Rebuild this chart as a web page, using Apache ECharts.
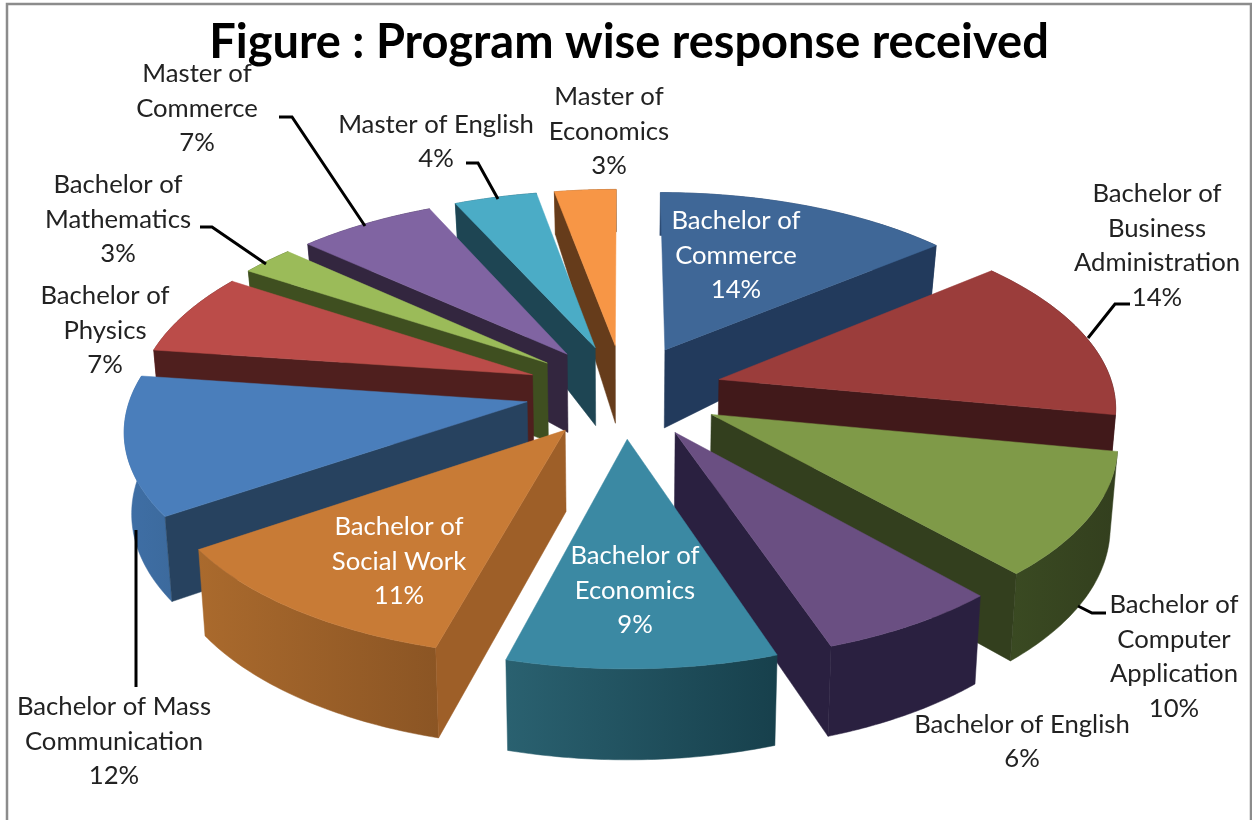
<!DOCTYPE html>
<html>
<head>
<meta charset="utf-8">
<title>Program wise response received</title>
<script src="https://cdn.jsdelivr.net/npm/echarts@6/dist/echarts.min.js"></script>
<style>
html,body{margin:0;padding:0;background:#fff;}
#main{width:1252px;height:820px;}
</style>
</head>
<body>
<div id="main"></div>
<script>
// chart data
var chartTitle = 'Figure : Program wise response received';
var programs = ['Bachelor of\nCommerce', 'Bachelor of\nBusiness\nAdministration', 'Bachelor of\nComputer\nApplication', 'Bachelor of English',
	'Bachelor of\nEconomics', 'Bachelor of\nSocial Work', 'Bachelor of Mass\nCommunication', 'Bachelor of\nPhysics',
	'Bachelor of\nMathematics', 'Master of\nCommerce', 'Master of English', 'Master of\nEconomics'];
var responses = [14, 14, 10.4, 6.4, 9.4, 11.3, 11.7, 7, 2.5, 6.5, 3.9, 2.9];

// styles, one per slice: top face, radial wall, outer wall left and right
var topColors = ['#3f6797', '#9b3d3b', '#7f9a48', '#6a4f82', '#3b89a3', '#c87b36', '#4a7ebb', '#bb4c49', '#9bbb59', '#8064a2', '#4bacc6', '#f79646'];
var wallColors = ['#223a5c', '#41191a', '#333f1e', '#2a2040', '#1e4553', '#9e5f28', '#27425f', '#4f1f1e', '#3f4f20', '#33263f', '#1e4553', '#663c1b'];
var outerLeft = ['#2c4a72', '#6e2b2a', '#3a4a22', '#2a2040', '#2a6170', '#aa6a2d', '#3f6fa6', '#7a2f2d', '#4f6428', '#4b3a61', '#2b6a7c', '#a8652e'];
var outerRight = ['#223a5c', '#41191a', '#333f1e', '#2a2040', '#17404c', '#8b5524', '#3c6a9d', '#4f1f1e', '#3f4f20', '#33263f', '#1e4553', '#663c1b'];
var labelColors = ['#fff', '#222', '#222', '#222', '#fff', '#fff', '#222', '#222', '#222', '#222', '#222', '#222'];

// label centres, one per slice
var labelPos = [[736, 255.5], [1157, 245.5], [1174, 656.5], [1022, 741.5], [635, 590.5], [399, 561.5], [114, 741.5], [105, 330.5], [118, 219.5], [197, 108.5], [436, 141.5], [609, 131.5]];
// leader lines
var leaders = [
	[[1130, 304], [1115, 304], [1088, 338]],
	[[1078, 606], [1092, 613], [1106, 613]],
	[[136, 530], [136, 687]],
	[[200, 227], [212, 227], [266, 264]],
	[[279, 117], [292, 117], [365, 226]],
	[[466, 163], [478, 163], [498, 199]]
];

// projection of the tilted disc
var cx = 624, cy = 391, rx = 395, ry = 187, persp = 0.127, explode = 0.25;
var heightStops = [[-220, 40], [-145, 50], [-43, 78], [127, 85], [277, 91], [400, 94]];

function wallHeight(dy) {
	for (var i = 1; i < heightStops.length; i++) {
		if (dy <= heightStops[i][0]) {
			var a = heightStops[i - 1], b = heightStops[i];
			return a[1] + (b[1] - a[1]) * (dy - a[0]) / (b[0] - a[0]);
		}
	}
	return 94;
}
// returns [top point, bottom point]
function project(theta, r, mid) {
	var x = r * Math.sin(theta) + explode * Math.sin(mid);
	var y = -r * Math.cos(theta) - explode * Math.cos(mid);
	var s = 1 / (1 - persp * y);
	var px = cx + rx * x * s, py = cy + ry * y * s;
	var h = wallHeight(py - cy);
	return [[px, py], [cx + (px - cx) * 0.985, py + h]];
}

var total = 0;
responses.forEach(function (v) { total += v; });
var slices = [], acc = 0;
responses.forEach(function (v, i) {
	var a0 = acc / total * Math.PI * 2;
	acc += v;
	var a1 = acc / total * Math.PI * 2;
	slices.push({ i: i, a0: a0, a1: a1, mid: (a0 + a1) / 2 });
});
// back slices first
var drawOrder = slices.slice().sort(function (a, b) {
	return -Math.cos(a.mid) - -Math.cos(b.mid);
});
var seriesData = drawOrder.map(function (s) { return [s.i, responses[s.i]]; });

function poly(points, fill, z2) {
	return { type: 'polygon', z2: z2, shape: { points: points }, style: { fill: fill, stroke: fill, lineWidth: 0.5 } };
}

function renderSlice(params, api) {
	var i = api.value(0);
	var s = slices[i];
	var rank = params.dataIndex * 10 + 1;
	var tip = project(0, 0, s.mid);
	var arcTop = [], arcBottom = [];
	var n = 48;
	for (var k = 0; k <= n; k++) {
		var p = project(s.a0 + (s.a1 - s.a0) * k / n, 1, s.mid);
		arcTop.push(p[0]);
		arcBottom.push(p[1]);
	}
	var children = [];
	// outer wall
	var grad = new echarts.graphic.LinearGradient(0, 0, 1, 0, [
		{ offset: 0, color: outerLeft[i] }, { offset: 1, color: outerRight[i] }
	]);
	children.push(poly(arcTop.concat(arcBottom.slice().reverse()), grad, rank));
	// radial walls that face the viewer
	if (Math.sin(s.a0) < 0) {
		var p0 = project(s.a0, 1, s.mid);
		children.push(poly([tip[0], p0[0], p0[1], tip[1]], wallColors[i], rank + 1));
	}
	if (Math.sin(s.a1) > 0) {
		var p1 = project(s.a1, 1, s.mid);
		children.push(poly([tip[0], p1[0], p1[1], tip[1]], wallColors[i], rank + 1));
	}
	children.push(poly([tip[0]].concat(arcTop), topColors[i], rank + 2));
	// label
	children.push({
		type: 'text', z2: 500,
		style: {
			x: labelPos[i][0], y: labelPos[i][1],
			text: programs[i] + '\n' + Math.round(api.value(1)) + '%',
			font: '25.7px Lato', lineHeight: 34.5, fill: labelColors[i],
			align: 'center', verticalAlign: 'middle'
		}
	});
	return { type: 'group', children: children };
}

var myChart = echarts.init(document.getElementById('main'));
var leaderGraphics = leaders.map(function (pts) {
	return { type: 'polyline', z: 20, shape: { points: pts }, style: { stroke: '#000', lineWidth: 3, fill: null } };
});
leaderGraphics.push({ type: 'rect', z: 0, shape: { x: 7, y: 4, width: 1244, height: 830 }, style: { fill: null, stroke: '#8c8c8c', lineWidth: 2.5 } });

var option = {
	backgroundColor: '#fff',
	animation: false,
	title: {
		text: chartTitle, left: 624, top: 14, textAlign: 'center',
		textStyle: { fontFamily: 'Lato', fontWeight: 'bold', fontSize: 47, color: '#000' }
	},
	graphic: leaderGraphics,
	series: [{
		type: 'custom',
		coordinateSystem: 'none',
		renderItem: renderSlice,
		data: seriesData,
		clip: false
	}]
};
myChart.setOption(option);
</script>
</body>
</html>
